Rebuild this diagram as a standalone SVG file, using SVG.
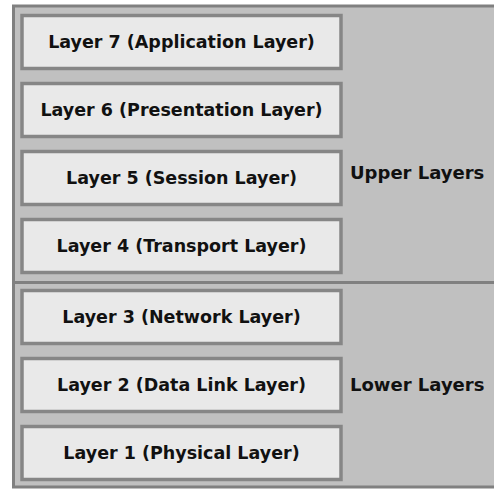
<svg xmlns="http://www.w3.org/2000/svg" width="494" height="489" viewBox="0 0 494 489">
<style>
.frame{fill:#c0c0c0;stroke:#808080;stroke-width:3}
.box{fill:#e9e9e9;stroke:#868686;stroke-width:3.5}
.lbl{font-family:"DejaVu Sans",Verdana,sans-serif;font-weight:bold;font-size:17.5px;fill:#111;text-anchor:middle}
.grp{font-family:"DejaVu Sans",Verdana,sans-serif;font-weight:bold;font-size:18px;fill:#111}
</style>
<rect x="0" y="0" width="494" height="489" fill="#ffffff"/>
<rect class="frame" x="13.5" y="6" width="482" height="481"/>
<g id="connectors">
<line x1="12" y1="282.5" x2="494" y2="282.5" stroke="#808080" stroke-width="3"/>
</g>
<g id="layer7"><rect class="box" x="22" y="15.5" width="319" height="53"/><text class="lbl" x="181.5" y="48">Layer 7 (Application Layer)</text></g>
<g id="layer6"><rect class="box" x="22" y="83.5" width="319" height="53"/><text class="lbl" x="181.5" y="116">Layer 6 (Presentation Layer)</text></g>
<g id="layer5"><rect class="box" x="22" y="151.5" width="319" height="53"/><text class="lbl" x="181.5" y="184">Layer 5 (Session Layer)</text></g>
<g id="layer4"><rect class="box" x="22" y="219.5" width="319" height="53"/><text class="lbl" x="181.5" y="252">Layer 4 (Transport Layer)</text></g>
<g id="layer3"><rect class="box" x="22" y="290.5" width="319" height="53"/><text class="lbl" x="181.5" y="323">Layer 3 (Network Layer)</text></g>
<g id="layer2"><rect class="box" x="22" y="358.5" width="319" height="53"/><text class="lbl" x="181.5" y="391">Layer 2 (Data Link Layer)</text></g>
<g id="layer1"><rect class="box" x="22" y="426.5" width="319" height="53"/><text class="lbl" x="181.5" y="459">Layer 1 (Physical Layer)</text></g>
<g id="upper"><text class="grp" x="350" y="179">Upper Layers</text></g>
<g id="lower"><text class="grp" x="350" y="391">Lower Layers</text></g>
</svg>
